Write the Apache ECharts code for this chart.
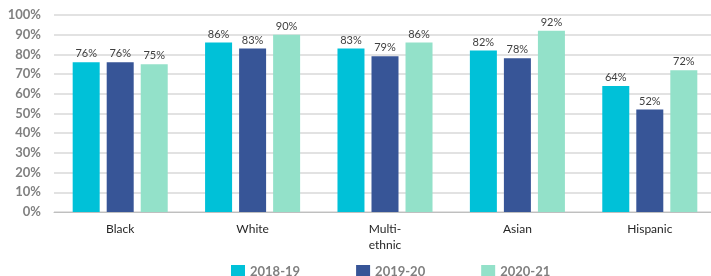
<!DOCTYPE html>
<html>
<head>
    <meta charset="utf-8">
    <title>Completion by group</title>
    <script src="https://cdn.jsdelivr.net/npm/echarts@6/dist/echarts.min.js"></script>
    <style>body { margin: 0; overflow: hidden; }</style>
</head>
<body>
    <!-- a bit wider than the window: the plot area runs off the right edge like the original -->
    <div id="chart" style="width: 724px; height: 276px;"></div>
    <script>
    const categories = ['Black', 'White', 'Multi-\nethnic', 'Asian', 'Hispanic'];
    const years = ['2018-19', '2019-20', '2020-21'];
    const values1819 = [76, 86, 83, 82, 64];
    const values1920 = [76, 83, 79, 78, 52];
    const values2021 = [75, 90, 86, 92, 72];
    const colors = ['#00c1d8', '#375597', '#93e1c9'];

    const chart = echarts.init(document.getElementById('chart'));
    const font = 'Lato, "Noto Sans", sans-serif';

    const makeSeries = (name, data, i) => ({
        name: name,
        type: 'bar',
        data: data,
        barWidth: 27,
        barGap: '26%',
        itemStyle: { color: colors[i] },
        label: {
            show: true,
            position: 'top',
            distance: 3,
            formatter: '{c}%',
            fontFamily: font,
            fontSize: 11,
            color: '#404040'
        }
    });

    chart.setOption({
        animation: false,
        textStyle: { fontFamily: font },
        grid: { left: 54, top: 15, width: 662, height: 197, containLabel: false },
        legend: {
            left: 226,
            top: 260,
            itemWidth: 14,
            itemHeight: 14,
            itemGap: 56,
            icon: 'rect',
            textStyle: { color: '#808080', fontSize: 13, fontWeight: 'bold', fontFamily: font }
        },
        xAxis: {
            type: 'category',
            data: categories,
            axisLine: { lineStyle: { color: '#bfbfbf' } },
            axisTick: { show: false },
            axisLabel: { color: '#262626', fontSize: 12, margin: 9, lineHeight: 16, fontFamily: font }
        },
        yAxis: {
            type: 'value',
            min: 0,
            max: 100,
            interval: 10,
            axisLabel: { formatter: '{value}%', color: '#808080', fontSize: 13, fontWeight: 'bold', margin: 13, fontFamily: font },
            splitLine: { lineStyle: { color: '#d9d9d9', width: 1.5 } },
            axisLine: { show: false },
            axisTick: { show: false }
        },
        series: [
            makeSeries(years[0], values1819, 0),
            makeSeries(years[1], values1920, 1),
            makeSeries(years[2], values2021, 2)
        ]
    });
    </script>
</body>
</html>
